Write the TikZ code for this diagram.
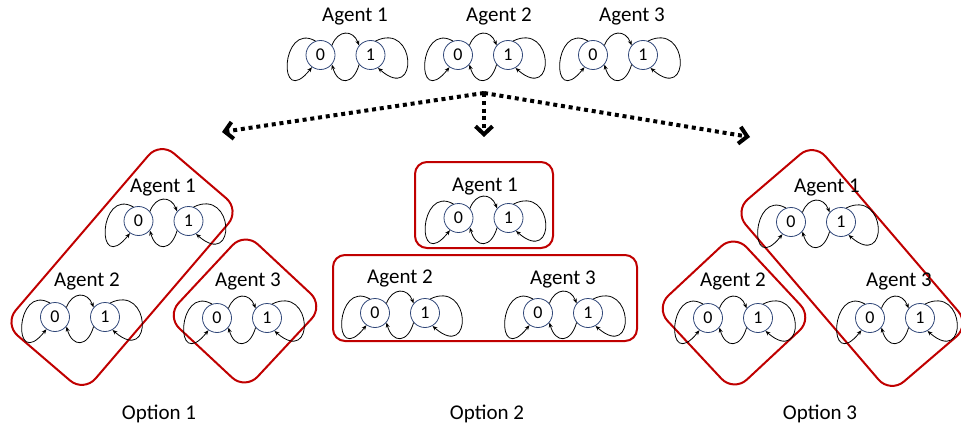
\documentclass[tikz,border=0pt]{standalone}
\usepackage{fontspec}
\setmainfont{Carlito}
\usetikzlibrary{arrows.meta}
\definecolor{boxred}{RGB}{192,0,0}
\definecolor{stblue}{RGB}{47,70,120}
\tikzset{
 st/.style={circle, draw=stblue, line width=0.8pt, minimum size=29pt, inner sep=0pt, font=\fontsize{18}{18}\selectfont},
 lab/.style={anchor=base, inner sep=0pt, font=\fontsize{21}{24}\selectfont},
 tr/.style={draw=black, line width=0.8pt, -{Stealth[length=5pt,width=4pt]}},
 grp/.style={draw=boxred, line width=2pt, rounded corners=18pt, inner sep=0pt},
 bigarrow/.style={line width=4pt, dash pattern=on 4pt off 3.8pt, -{Straight Barb[length=8pt,width=17pt]}},
}
\newcommand{\agentmod}[6]{%
 \node[st] (#1a) at (#2-25,#3) {0};
 \node[st] (#1b) at (#2+25,#3) {1};
 \node[lab] (#1l) at (#5,#6) {#4};
 \draw[tr] (#1a.40) .. controls +(6,-16) and +(-6,-16) .. (#1b.140);
 \draw[tr] (#1b.220) .. controls +(-6,21) and +(6,21) .. (#1a.320);
 \draw[tr] (#1a.110) .. controls +(-35,-20) and +(-35,44) .. (#1a.235);
 \draw[tr] (#1b.70) .. controls +(41,-20) and +(41,36) .. (#1b.300);
}
\begin{document}
\begin{tikzpicture}[x=1pt,y=-1pt]
\useasboundingbox (0,0) rectangle (961,425);
% group boxes
\node[grp, rotate=49.4, minimum width=240pt, minimum height=105pt] (o1g) at (122,267) {};
\node[grp, rotate=47, minimum width=115pt, minimum height=108pt] (o1s) at (245,311) {};
\node[grp, rounded corners=12pt, minimum width=138pt, minimum height=86pt] (o2a) at (484,205) {};
\node[grp, rounded corners=12pt, minimum width=304pt, minimum height=86pt] (o2b) at (485,298) {};
\node[grp, rotate=-49.4, minimum width=240pt, minimum height=105pt] (o3g) at (852,268) {};
\node[grp, rotate=-47, minimum width=115pt, minimum height=108pt] (o3s) at (734,313) {};
% top agents
\agentmod{t1}{345.5}{55}{Agent 1}{355}{22}
\agentmod{t2}{483}{55}{Agent 2}{499}{22}
\agentmod{t3}{618}{55}{Agent 3}{632}{22}
% option 1
\agentmod{pa}{163.5}{221}{Agent 1}{163}{193}
\agentmod{pb}{80}{317}{Agent 2}{87}{286}
\agentmod{pc}{242}{318}{Agent 3}{248}{286}
% option 2
\agentmod{qa}{483.5}{218}{Agent 1}{485}{191}
\agentmod{qb}{400}{313}{Agent 2}{400}{283}
\agentmod{qc}{563}{313}{Agent 3}{563}{284}
% option 3
\agentmod{ra}{816}{222}{Agent 1}{827}{193}
\agentmod{rb}{733}{318}{Agent 2}{733}{286}
\agentmod{rc}{895}{318}{Agent 3}{899}{286}
% arrows
\coordinate (hub) at (484,93);
\coordinate (tL) at (222,132);
\coordinate (tD) at (484,137);
\coordinate (tR) at (750,137);
\draw[bigarrow] (hub) -- (tL);
\draw[bigarrow] (hub) -- (tD);
\draw[bigarrow] (hub) -- (tR);
% option labels
\node[lab] (op1) at (159,419) {Option 1};
\node[lab] (op2) at (487,419) {Option 2};
\node[lab] (op3) at (820,419) {Option 3};
\end{tikzpicture}
\end{document}
